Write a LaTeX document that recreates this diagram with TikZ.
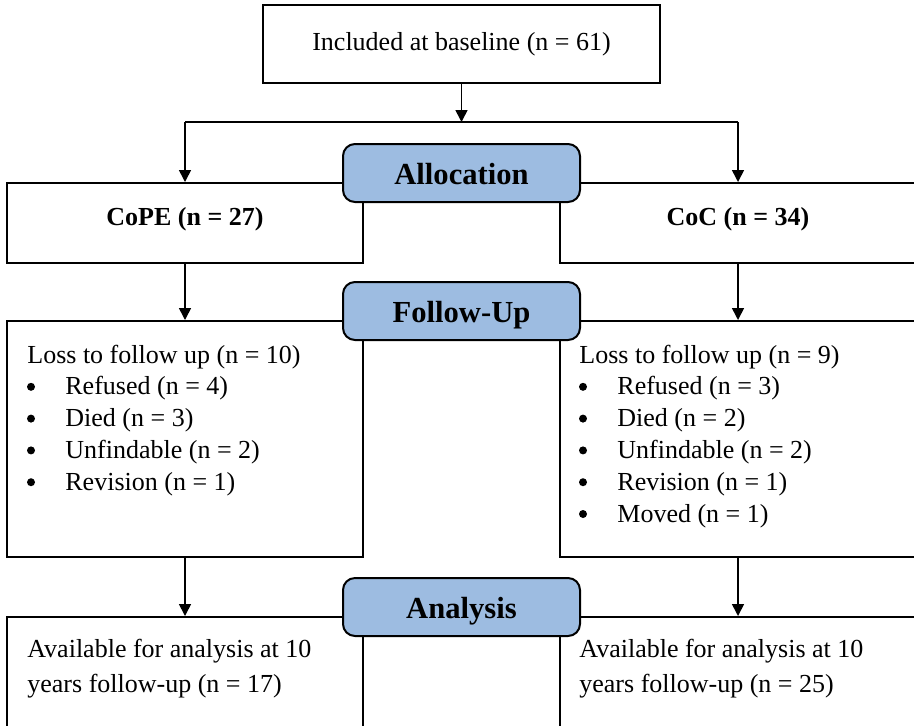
\documentclass[tikz,border=0pt]{standalone}
\usepackage{fontspec}
\setmainfont{Liberation Serif}
\usetikzlibrary{arrows.meta, positioning}

\definecolor{headblue}{HTML}{9DBCE1}

\begin{document}
\begin{tikzpicture}[x=0.5pt, y=-0.5pt]

  % Define styles
  \tikzset{
    box/.style={rectangle, draw, line width=1pt, minimum width=178pt, inner sep=0pt},
    head/.style={rectangle, draw, line width=1pt, rounded corners=6pt, fill=headblue,
      minimum width=118.5pt, minimum height=29pt, inner sep=0pt,
      text height=11pt, text depth=0pt, font=\fontsize{15.3}{18}\selectfont\bfseries},
    txt/.style={inner sep=0pt, anchor=base west, font=\fontsize{13}{16}\selectfont},
    title/.style={txt, anchor=base, font=\fontsize{13}{16}\selectfont\bfseries},
    dot/.style={circle, fill, minimum size=4pt, inner sep=0pt},
    link/.style={line width=0.8pt, -{Triangle[width=6pt, length=6pt]}},
  }

  \useasboundingbox (0,0) rectangle (914,725);
  \clip (0,0) rectangle (914,725);

  % Boxes
  \node[box, minimum width=198.5pt, minimum height=39pt] (base) at (461.5,44) {};
  \node[box, minimum height=40pt] (cope) at (185,223) {};
  \node[box, minimum height=40pt] (coc) at (738,223) {};
  \node[box, minimum height=118pt] (lossL) at (185,439) {};
  \node[box, minimum height=118pt] (lossR) at (738,439) {};
  \node[box, minimum height=72pt] (availL) at (185,689) {};
  \node[box, minimum height=72pt] (availR) at (738,689) {};

  % Box texts
  \node[txt, anchor=base] (basetxt) at (461.5,50) {Included at baseline (n = 61)};
  \node[title] (copetxt) at (185,225) {CoPE (n = 27)};
  \node[title] (coctxt) at (738,225) {CoC (n = 34)};

  \node[txt] (lossLtxt) at (27,363) {Loss to follow up (n = 10)};
  \foreach \entry [count=\i] in {Refused (n = 4), Died (n = 3), Unfindable (n = 2), Revision (n = 1)} {
    \node[dot] (bulL\i) at (31,{355+31.8*\i}) {};
    \node[txt] (itemL\i) at (65,{363+31.8*\i}) {\entry};
  }

  \node[txt] (lossRtxt) at (579,363) {Loss to follow up (n = 9)};
  \foreach \entry [count=\i] in {Refused (n = 3), Died (n = 2), Unfindable (n = 2), Revision (n = 1), Moved (n = 1)} {
    \node[dot] (bulR\i) at (583,{355+31.8*\i}) {};
    \node[txt] (itemR\i) at (617,{363+31.8*\i}) {\entry};
  }

  \node[txt] (availL1) at (27,657) {Available for analysis at 10};
  \node[txt] (availL2) at (27,692) {years follow-up (n = 17)};
  \node[txt] (availR1) at (579,657) {Available for analysis at 10};
  \node[txt] (availR2) at (579,692) {years follow-up (n = 25)};

  % Connections
  \coordinate (split) at (461.5,122);
  \coordinate (splitL) at (185,122);
  \coordinate (splitR) at (738,122);

  \draw[link] (base) -- (split);
  \draw[line width=0.8pt] (splitL) -- (splitR);
  \draw[link] (splitL) -- (cope);
  \draw[link] (splitR) -- (coc);
  \draw[link] (cope) -- (lossL);
  \draw[link] (coc) -- (lossR);
  \draw[link] (lossL) -- (availL);
  \draw[link] (lossR) -- (availR);

  % Stage headers
  \node[head] (alloc) at (461.5,173) {Allocation};
  \node[head] (follow) at (461.5,311) {Follow-Up};
  \node[head] (analysis) at (461.5,607) {Analysis};

\end{tikzpicture}
\end{document}
